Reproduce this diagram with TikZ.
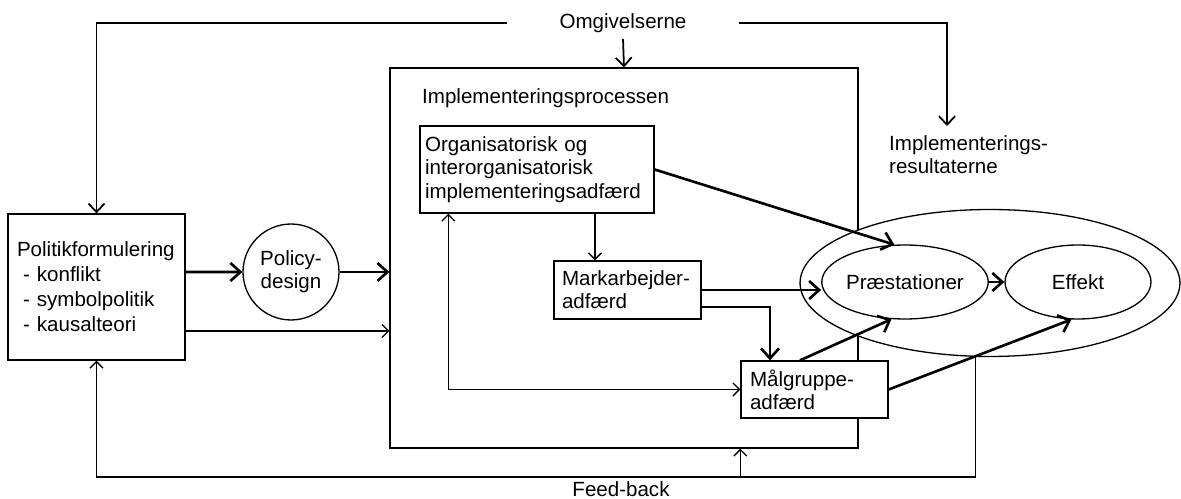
\documentclass[tikz,border=0pt]{standalone}
\usepackage{fontspec}
\setmainfont{Liberation Sans}
\usetikzlibrary{arrows.meta,shapes.geometric,positioning}

\tikzset{
  boks/.style={draw, line width=0.75pt, fill=white, align=left, inner ysep=0pt},
  ring/.style={draw, line width=0.75pt, fill=white, inner sep=0pt, align=center},
  tynd/.style={line width=0.75pt, -{Straight Barb[length=1.3mm,width=2.6mm]}},
  dobbelt/.style={line width=0.75pt, {Straight Barb[length=1.3mm,width=2.6mm]}-{Straight Barb[length=1.3mm,width=2.6mm]}},
  mellem/.style={line width=1pt, -{Straight Barb[length=1.7mm,width=3.2mm]}},
  tyk/.style={line width=1.5pt, -{Straight Barb[length=2mm,width=3.6mm]}},
}

\begin{document}
\begin{tikzpicture}[x=0.02cm, y=-0.02cm, font=\fontsize{11.7}{13.2}\selectfont]
  \useasboundingbox (0,0) rectangle (1181,499);
  \node[draw, line width=0.75pt, minimum width=9.36cm, minimum height=7.6cm] (proces) at (624,258) {};
  \node[anchor=west] (proceslabel) at (416,98) {Implementeringsprocessen};
  \node[ring, ellipse, minimum width=7.6cm, minimum height=2.94cm] (ydre) at (990,283) {};
  \node[ring, ellipse, minimum width=2.88cm, minimum height=1.48cm] (praest) at (905,282) {Præstationer};
  \node[ring, ellipse, minimum width=2.92cm, minimum height=1.48cm] (effekt) at (1078,282) {Effekt};
  \node[boks, minimum height=2.92cm, text width=3.18cm, inner xsep=0.18cm, font=\fontsize{11.7}{14.2}\selectfont] (politik) at (96.5,287)
    {Politikformulering\\\hspace{0.3em}- konflikt\\\hspace{0.3em}- symbolpolitik\\\hspace{0.3em}- kausalteori};
  \node[ring, circle, minimum size=1.92cm] (policy) at (291,272) {Policy-\\design};
  \node[boks, minimum height=1.74cm, text width=4.48cm, inner xsep=0.1cm] (org) at (537,169.5)
    {Organisatorisk og\\interorganisatorisk\\implementeringsadfærd};
  \node[boks, minimum height=1.16cm, text width=2.62cm, inner xsep=0.16cm] (mark) at (627.5,290) {Markarbejder-\\adfærd};
  \node[boks, minimum height=1.14cm, text width=2.58cm, inner xsep=0.18cm] (maal) at (814.5,389.5) {Målgruppe-\\adfærd};
  \node[inner xsep=1.04cm] (omg) at (623,23) {Omgivelserne};
  \node[anchor=west, align=left] (resultat) at (883,155) {Implementerings-\\resultaterne};
  \coordinate (resultatpil) at (947,126);
  \node[anchor=north, inner ysep=2.3pt] (fb) at (621,477) {Feed-back};

  \draw[mellem] (omg.west) -| (politik.north);
  \draw[mellem] (omg.east) -| (resultatpil);
  \draw[mellem] (omg.south) -- (proces.north);
  \draw[tyk] ([yshift=0.3cm]politik.east) -- (policy.west);
  \draw[tyk] (policy.east) -- (policy.east -| proces.west);
  \draw[tynd] ([yshift=-0.88cm]politik.east) -- ([yshift=-0.88cm]politik.east -| proces.west);
  \draw[tynd] ([xshift=-0.65cm]mark.north |- org.south) -- ([xshift=-0.65cm]mark.north);
  \draw[dobbelt] ([xshift=0.58cm]org.south west) |- (maal.west);
  \draw[tyk] (org.east) -- (praest.106);
  \draw[tyk] (mark.east) -- (mark.east -| praest.west);
  \draw[tyk] ([yshift=-0.34cm]mark.east) -| ([xshift=-0.89cm]maal.north);
  \draw[tyk] ([xshift=-0.29cm]maal.north) -- (praest.250);
  \draw[tyk] (maal.east) -- (effekt.260);
  \draw[tyk] (praest.east) -- (effekt.west);
  \draw[tynd] (ydre.259) |- (fb.north) -| (politik.south);
  \draw[tynd] (maal.west |- fb.north) -- (maal.west |- proces.south);
\end{tikzpicture}
\end{document}
